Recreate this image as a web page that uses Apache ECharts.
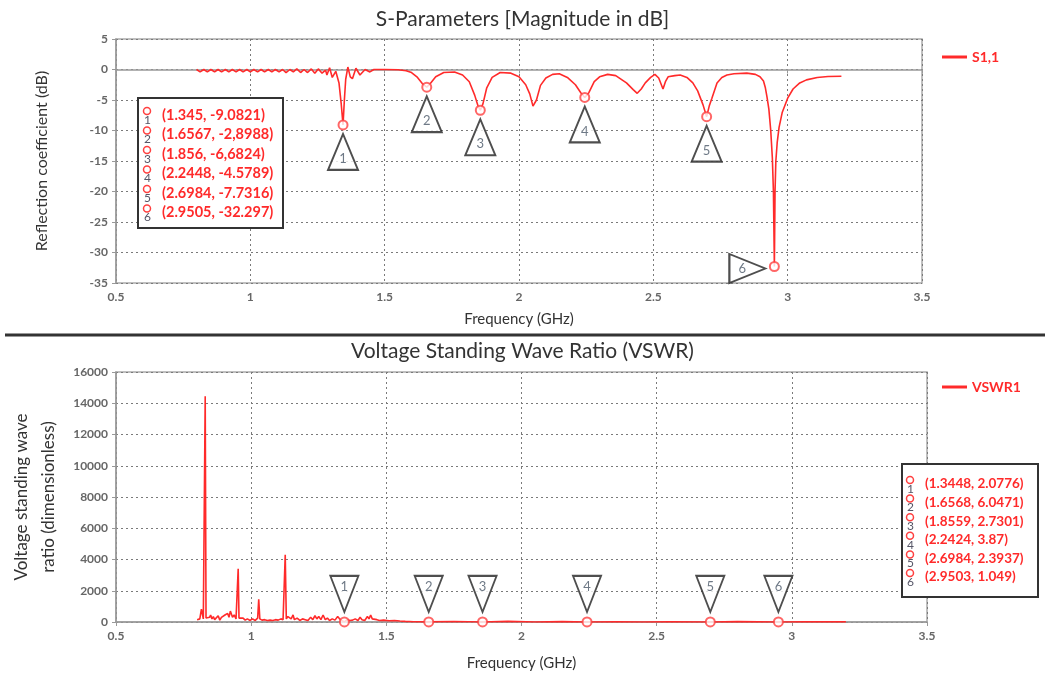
<!DOCTYPE html>
<html>
<head>
<meta charset="UTF-8">
<title>S-Parameters / VSWR</title>
<script src="https://cdn.jsdelivr.net/npm/echarts@6/dist/echarts.min.js"></script>
<style>html,body{margin:0;padding:0;background:#fff;}</style>
</head>
<body>
<div id="main" style="width:1045px;height:684px;"></div>
<script>
// S1,1 trace (GHz, dB)
var s11Freq = [0.80, 0.813, 0.827, 0.840, 0.853, 0.867, 0.880, 0.893, 0.907, 0.920, 0.933, 0.947, 0.960, 0.973, 0.987,
  1.000, 1.013, 1.027, 1.040, 1.053, 1.067, 1.080, 1.093, 1.107, 1.120, 1.133, 1.147, 1.160, 1.173, 1.187, 1.200,
  1.213, 1.227, 1.240, 1.253, 1.267, 1.280, 1.285, 1.295, 1.305, 1.318, 1.330, 1.338, 1.345, 1.350, 1.355, 1.363,
  1.372, 1.380, 1.393, 1.408, 1.427, 1.445, 1.46, 1.50, 1.55, 1.58, 1.60, 1.62, 1.64, 1.6567, 1.67, 1.69, 1.72,
  1.76, 1.79, 1.815, 1.835, 1.847, 1.856, 1.866, 1.88, 1.90, 1.93, 1.97, 2.00, 2.025, 2.04, 2.052, 2.058, 2.065,
  2.08, 2.10, 2.125, 2.15, 2.18, 2.21, 2.23, 2.2448, 2.26, 2.28, 2.30, 2.33, 2.36, 2.40, 2.425, 2.44, 2.455, 2.47,
  2.49, 2.506, 2.52, 2.528, 2.536, 2.545, 2.555, 2.58, 2.60, 2.625, 2.647, 2.665, 2.685, 2.6984, 2.708, 2.718,
  2.737, 2.755, 2.774, 2.80, 2.848, 2.88, 2.897, 2.91, 2.917, 2.923, 2.93, 2.937, 2.943, 2.947, 2.9505, 2.953,
  2.956, 2.961, 2.968, 2.98, 3.00, 3.02, 3.045, 3.07, 3.11, 3.15, 3.2];
var s11Db = [0.0, -0.4, 0.0, -0.4, 0.0, -0.4, 0.0, -0.4, 0.0, -0.4, 0.0, -0.4, 0.0, -0.4, 0.0,
  -0.4, 0.0, -0.4, 0.0, -0.4, 0.0, -0.4, 0.0, -0.4, 0.0, -0.5, 0.0, -0.4, 0.1, -0.5, 0.0,
  -0.5, 0.1, -0.6, 0.1, -0.6, -0.1, -0.9, 0.3, -1.3, -0.3, -2.2, -5.5, -9.0821, -5.0, -1.6, 0.4,
  -1.2, -1.5, 0.2, -0.9, 0.0, -0.4, 0.0, 0.0, -0.05, -0.2, -0.5, -1.2, -2.3, -2.8988, -2.3, -1.2, -0.5,
  -0.4, -0.9, -2.0, -4.2, -5.9, -6.6824, -5.6, -3.0, -1.3, -0.5, -0.6, -1.2, -2.5, -4.0, -6.0, -6.3, -5.0,
  -2.6, -1.4, -0.8, -0.7, -1.3, -2.5, -3.8, -4.5789, -3.8, -2.0, -1.2, -0.8, -1.0, -2.2, -3.3, -3.9, -3.2, -2.2,
  -1.3, -0.8, -1.4, -2.3, -3.2, -2.0, -1.2, -1.0, -0.9, -1.3, -2.2, -3.5, -5.8, -7.7316, -6.0, -4.7,
  -2.2, -1.3, -0.9, -0.7, -0.6, -0.8, -1.2, -1.9, -3.0, -4.5, -6.5, -10, -14.5, -20, -32.297, -20,
  -15, -12, -9.5, -7.0, -4.7, -3.2, -2.2, -1.7, -1.3, -1.15, -1.1];

// VSWR1 trace (GHz, dimensionless)
var vswrFreq = [0.800, 0.810, 0.816, 0.820, 0.823, 0.827, 0.830, 0.833, 0.840, 0.846, 0.850, 0.855, 0.860, 0.865,
  0.872, 0.878, 0.884, 0.890, 0.897, 0.903, 0.908, 0.913, 0.918, 0.923, 0.927, 0.931, 0.937, 0.944, 0.949, 0.952,
  0.955, 0.962, 0.970, 0.978, 0.986, 0.995, 1.005, 1.015, 1.024, 1.028, 1.032, 1.040, 1.050, 1.060, 1.070, 1.080,
  1.090, 1.100, 1.110, 1.118, 1.122, 1.126, 1.130, 1.136, 1.142, 1.148, 1.155, 1.160, 1.170, 1.180, 1.190, 1.200,
  1.210, 1.220, 1.228, 1.236, 1.243, 1.250, 1.258, 1.266, 1.274, 1.282, 1.290, 1.300, 1.310, 1.320, 1.330, 1.3448,
  1.355, 1.365, 1.375, 1.385, 1.395, 1.403, 1.410, 1.420, 1.430, 1.436, 1.442, 1.448, 1.455, 1.465, 1.475, 1.490,
  1.510, 1.530, 1.550, 1.570, 1.600, 1.6568, 1.75, 1.8559, 1.95, 2.05, 2.15, 2.2424, 2.35, 2.45, 2.55, 2.6984,
  2.8, 2.9503, 3.05, 3.2];
var vswrVal = [150, 200, 820, 830, 200, 300, 14450, 250, 150, 300, 450, 200, 350, 150,
  250, 400, 120, 300, 200, 450, 350, 550, 300, 700, 780, 300, 450, 200, 300, 3400,
  250, 150, 250, 120, 200, 100, 200, 100, 250, 1450, 200, 120, 150, 100, 120, 100,
  150, 120, 200, 150, 250, 4300, 200, 350, 450, 200, 450, 150, 250, 100, 200, 150,
  100, 300, 150, 400, 200, 350, 150, 450, 150, 250, 100, 200, 120, 350, 150, 2.08,
  150, 100, 120, 200, 100, 300, 150, 100, 350, 200, 450, 200, 300, 150, 100, 120,
  80, 100, 60, 40, 20, 6.05, 30, 2.73, 40, 3, 25, 3.87, 20, 4, 15, 2.39,
  25, 1.05, 5, 8];

// markers
var s11MarkFreq = [1.345, 1.6567, 1.856, 2.2448, 2.6984, 2.9505];
var s11MarkDb = [-9.0821, -2.8988, -6.6824, -4.5789, -7.7316, -32.297];
var s11MarkText = ['(1.345, -9.0821)', '(1.6567, -2,8988)', '(1.856, -6,6824)',
  '(2.2448, -4.5789)', '(2.6984, -7.7316)', '(2.9505, -32.297)'];
var vswrMarkFreq = [1.3448, 1.6568, 1.8559, 2.2424, 2.6984, 2.9503];
var vswrMarkVal = [2.0776, 6.0471, 2.7301, 3.87, 2.3937, 1.049];
var vswrMarkText = ['(1.3448, 2.0776)', '(1.6568, 6.0471)', '(1.8559, 2.7301)',
  '(2.2424, 3.87)', '(2.6984, 2.3937)', '(2.9503, 1.049)'];

var FONT = 'Lato, "Open Sans", sans-serif';
var RED = '#ff2a2a';

function zip(a, b) {
  return a.map(function (x, i) { return [x, b[i]]; });
}

var myChart = echarts.init(document.getElementById('main'));

var gridLine = { show: true, lineStyle: { type: [2, 3], color: '#7a7a7a', width: 1 } };
var axisLbl = { color: '#666', fontSize: 12, fontWeight: 'bold', fontFamily: FONT };
var axisLn = { lineStyle: { color: '#999', width: 1.5 } };
var axisTk = { show: true, length: 4, lineStyle: { color: '#999' } };
var nameStyle = { color: '#333', fontSize: 15, fontFamily: FONT };

// marker tables drawn as boxes
var elements = [
  { type: 'line', shape: { x1: 5, y1: 335, x2: 1045, y2: 335 }, style: { stroke: '#333', lineWidth: 3 } },
  { type: 'rect', shape: { x: 138, y: 98, width: 145, height: 130 }, style: { fill: '#fff', stroke: '#333', lineWidth: 2 }, z: 10 },
  { type: 'rect', shape: { x: 902, y: 464, width: 136, height: 133 }, style: { fill: '#fff', stroke: '#333', lineWidth: 2 }, z: 10 }
];
function addRows(txts, x0, y0, step, size) {
  txts.forEach(function (t, i) {
    var y = y0 + i * step;
    elements.push({ type: 'circle', z: 11, shape: { cx: x0, cy: y - 4, r: 3.5 },
      style: { fill: '#fff', stroke: '#ff4040', lineWidth: 1.5 } });
    elements.push({ type: 'text', z: 11, x: x0 - 3, y: y + 5,
      style: { text: String(i + 1), fill: '#556', fontSize: 12, fontFamily: FONT, verticalAlign: 'middle' } });
    elements.push({ type: 'text', z: 11, x: x0 + 15, y: y,
      style: { text: t, fill: RED, fontSize: size, fontWeight: 'bold', fontFamily: FONT, verticalAlign: 'middle' } });
  });
}
addRows(s11MarkText, 147, 115, 19.5, 14.5);
addRows(vswrMarkText, 910, 484, 18.6, 13.5);

var upTri = 'path://M15,0 L30,36 L0,36 Z';
var downTri = 'path://M0,0 L28,0 L14,36 Z';
var rightTri = 'path://M0,0 L36,14 L0,28 Z';
var triStyle = { color: '#fff', borderColor: '#222', borderWidth: 2 };
var triLabel = { show: true, position: 'inside', color: '#4a5868', fontSize: 13, fontFamily: FONT };

myChart.setOption({
  animation: false,
  textStyle: { fontFamily: FONT },
  title: [
    { text: 'S-Parameters [Magnitude in dB]', left: 'center', top: 4,
      textStyle: { fontSize: 21, fontWeight: 'normal', color: '#333', fontFamily: FONT } },
    { text: 'Voltage Standing Wave Ratio (VSWR)', left: 'center', top: 336,
      textStyle: { fontSize: 21, fontWeight: 'normal', color: '#333', fontFamily: FONT } }
  ],
  legend: [
    { data: ['S1,1'], left: 937, top: 45, icon: 'rect', itemWidth: 25, itemHeight: 3,
      textStyle: { color: RED, fontWeight: 'bold', fontSize: 14, fontFamily: FONT } },
    { data: ['VSWR1'], left: 937, top: 375, icon: 'rect', itemWidth: 25, itemHeight: 3,
      textStyle: { color: RED, fontWeight: 'bold', fontSize: 14, fontFamily: FONT } }
  ],
  grid: [
    { left: 116, right: 123, top: 39, bottom: 401, show: true, borderColor: '#aaa', borderWidth: 1.5 },
    { left: 116, right: 118, top: 372, bottom: 62, show: true, borderColor: '#aaa', borderWidth: 1.5 }
  ],
  xAxis: [
    { gridIndex: 0, type: 'value', min: 0.5, max: 3.5, interval: 0.5, name: 'Frequency (GHz)',
      nameLocation: 'middle', nameGap: 29, nameTextStyle: nameStyle,
      axisLabel: axisLbl, axisLine: axisLn, axisTick: axisTk, splitLine: gridLine },
    { gridIndex: 1, type: 'value', min: 0.5, max: 3.5, interval: 0.5, name: 'Frequency (GHz)',
      nameLocation: 'middle', nameGap: 34, nameTextStyle: nameStyle,
      axisLabel: axisLbl, axisLine: axisLn, axisTick: axisTk, splitLine: gridLine }
  ],
  yAxis: [
    { gridIndex: 0, type: 'value', min: -35, max: 5, interval: 5, name: 'Reflection coefficient (dB)',
      nameLocation: 'middle', nameGap: 66, nameTextStyle: { color: '#333', fontSize: 16, fontFamily: FONT },
      axisLabel: axisLbl, axisLine: axisLn, axisTick: axisTk, splitLine: gridLine },
    { gridIndex: 1, type: 'value', min: 0, max: 16000, interval: 2000,
      name: 'Voltage standing wave\nratio (dimensionless)',
      nameLocation: 'middle', nameGap: 45,
      nameTextStyle: { color: '#333', fontSize: 17, lineHeight: 27, fontFamily: FONT },
      axisLabel: Object.assign({}, axisLbl, { formatter: function (v) { return String(v); } }),
      axisLine: axisLn, axisTick: axisTk, splitLine: gridLine }
  ],
  series: [
    { name: 'S1,1', type: 'line', xAxisIndex: 0, yAxisIndex: 0, data: zip(s11Freq, s11Db),
      showSymbol: false, lineStyle: { color: RED, width: 1.6 }, itemStyle: { color: RED }, z: 3 },
    { name: 's11marks', type: 'scatter', xAxisIndex: 0, yAxisIndex: 0, data: zip(s11MarkFreq, s11MarkDb),
      symbol: 'emptyCircle', symbolSize: 9, itemStyle: { color: '#ff4040', borderWidth: 1.5 }, z: 4 },
    { name: 's11tri', type: 'scatter', xAxisIndex: 0, yAxisIndex: 0,
      data: zip(s11MarkFreq.slice(0, 5), s11MarkDb.slice(0, 5)),
      symbol: upTri, symbolSize: [30, 36], symbolOffset: [0, 27], itemStyle: triStyle, z: 5,
      label: Object.assign({}, triLabel, { offset: [0, 7], formatter: function (p) { return String(p.dataIndex + 1); } }) },
    { name: 's11tri6', type: 'scatter', xAxisIndex: 0, yAxisIndex: 0,
      data: zip(s11MarkFreq.slice(5), s11MarkDb.slice(5)),
      symbol: rightTri, symbolSize: [36, 29], symbolOffset: [-27, 2], itemStyle: triStyle, z: 5,
      label: Object.assign({}, triLabel, { offset: [-5, 0], formatter: '6' }) },
    { name: 'VSWR1', type: 'line', xAxisIndex: 1, yAxisIndex: 1, data: zip(vswrFreq, vswrVal),
      showSymbol: false, lineStyle: { color: RED, width: 1.6 }, itemStyle: { color: RED }, z: 3 },
    { name: 'vswrmarks', type: 'scatter', xAxisIndex: 1, yAxisIndex: 1, data: zip(vswrMarkFreq, vswrMarkVal),
      symbol: 'emptyCircle', symbolSize: 9, itemStyle: { color: '#ff4040', borderWidth: 1.5 }, z: 4 },
    { name: 'vswrtri', type: 'scatter', xAxisIndex: 1, yAxisIndex: 1, data: zip(vswrMarkFreq, vswrMarkVal),
      symbol: downTri, symbolSize: [28, 36], symbolOffset: [0, -28], itemStyle: triStyle, z: 5,
      label: Object.assign({}, triLabel, { offset: [0, -7], formatter: function (p) { return String(p.dataIndex + 1); } }) }
  ],
  graphic: { elements: elements }
});
</script>
</body>
</html>
